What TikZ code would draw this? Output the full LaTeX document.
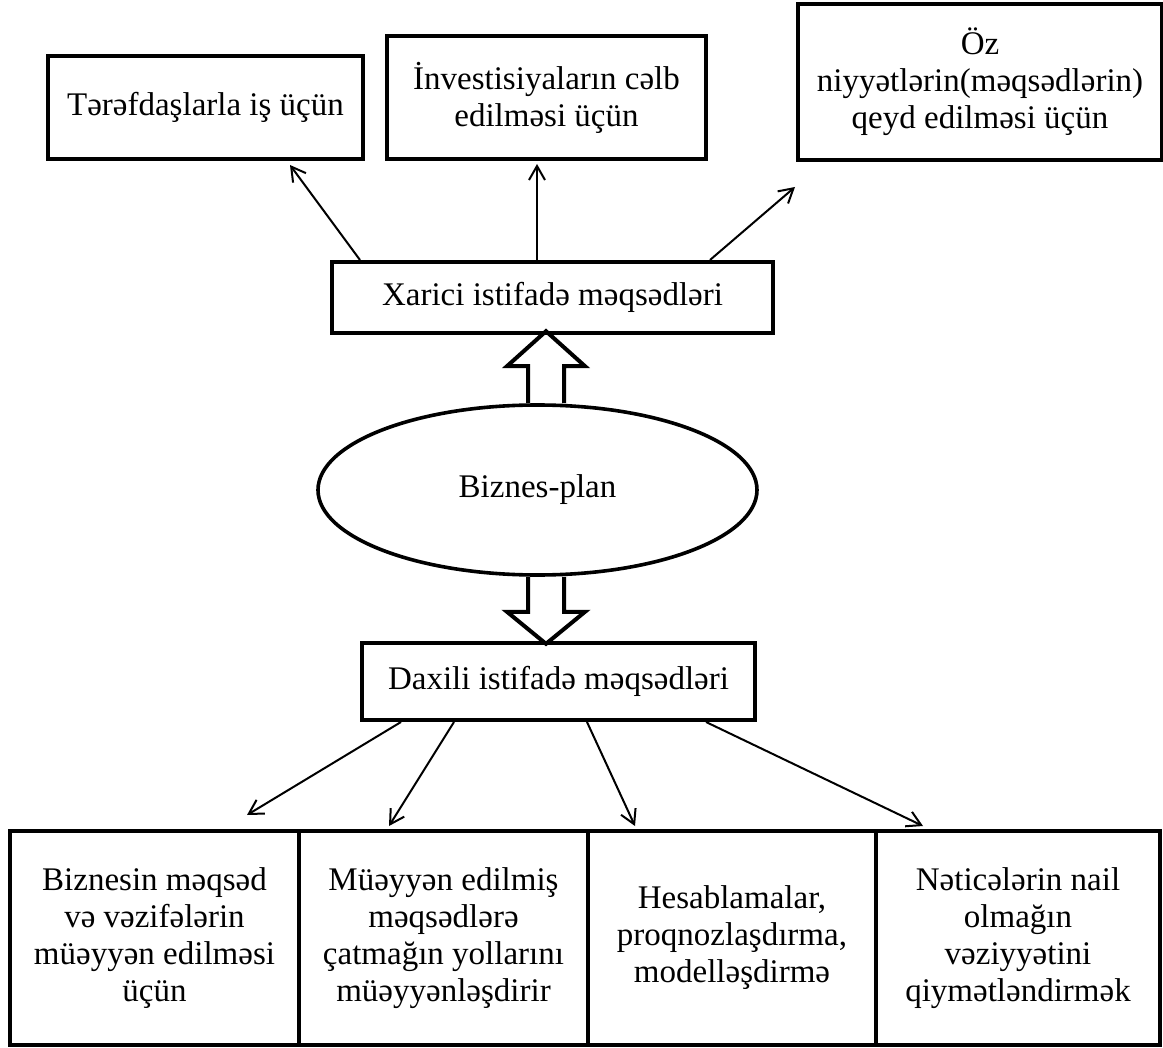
\documentclass[tikz,border=0pt]{standalone}
\usepackage{fontspec}
\setmainfont{Liberation Serif}
\usepackage{tikz}
\usetikzlibrary{shapes.geometric, arrows.meta, positioning, calc}

\begin{document}
\begin{tikzpicture}[
    x=0.5pt, y=-0.5pt,
    font=\fontsize{16.5}{18.5}\selectfont,
    box/.style={rectangle, draw, line width=2pt, align=center, inner sep=0pt},
    plan/.style={ellipse, draw, line width=1.8pt, minimum width=219.5pt, minimum height=85pt},
    arrow/.style={-{Straight Barb[length=7pt, width=8pt]}, line width=1pt},
    bigarrow/.style={line width=2pt, line join=miter}
]
\useasboundingbox (0,0) rectangle (1163,1048);

% External goals
\node[box, minimum width=157.5pt, minimum height=51.5pt] (partner) at (205.5,107.5) {Tərəfdaşlarla iş üçün};
\node[box, minimum width=159.5pt, minimum height=61.5pt] (invest) at (546.5,97.5) {İnvestisiyaların cəlb\\edilməsi üçün};
\node[box, minimum width=182pt, minimum height=78pt] (intent) at (980,82) {Öz\\niyyətlərin(məqsədlərin)\\qeyd edilməsi üçün};

\node[box, minimum width=220.5pt, minimum height=35.5pt] (xarici) at (552.5,297.5) {Xarici istifadə məqsədləri};

% Business plan in the middle
\node[plan] (plan) at (537.5,490) {Biznes-plan};

\node[box, minimum width=196.5pt, minimum height=38.5pt] (daxili) at (558.5,681.5) {Daxili istifadə məqsədləri};

% Internal goals
\node[box, minimum width=144.5pt, minimum height=107pt] (goals) at (154.5,938) {Biznesin məqsəd\\və vəzifələrin\\müəyyən edilməsi\\üçün};
\node[box, minimum width=144.5pt, minimum height=107pt] (ways) at (443.5,938) {Müəyyən edilmiş\\məqsədlərə\\çatmağın yollarını\\müəyyənləşdirir};
\node[box, minimum width=144pt, minimum height=107pt] (forecast) at (732,938) {Hesablamalar,\\proqnozlaşdırma,\\modelləşdirmə};
\node[box, minimum width=142pt, minimum height=107pt] (result) at (1018,938) {Nəticələrin nail\\olmağın\\vəziyyətini\\qiymətləndirmək};

% Hollow arrows
\coordinate (upfoot) at ($(plan.north)+(7.5,0)$);
\coordinate (downfoot) at ($(plan.south)+(7.5,0)$);
\draw[bigarrow] (upfoot) ++(-17,0) -- ++(0,-37) -- ++(-21,0) -- ++(39,-35) -- ++(39,35) -- ++(-21,0) -- ++(0,37);
\draw[bigarrow] (downfoot) ++(-17,0) -- ++(0,35) -- ++(-21,0) -- ++(39,32) -- ++(39,-32) -- ++(-21,0) -- ++(0,-35);

% Thin arrows up
\draw[arrow] ($(xarici.north west)+(30,0)$) -- ($(partner.south)+(84.5,4)$);
\draw[arrow] ($(xarici.north)+(-15.5,0)$) -- ($(invest.south)+(-9.5,3)$);
\draw[arrow] ($(xarici.north east)+(-65,0)$) -- ($(intent.south west)+(-1,25)$);

% Thin arrows down
\draw[arrow] ($(daxili.south west)+(41,0)$) -- ($(goals.north)+(92.5,-14)$);
\draw[arrow] ($(daxili.south west)+(94,0)$) -- ($(ways.north)+(-54.5,-3)$);
\draw[arrow] ($(daxili.south west)+(227,0)$) -- ($(forecast.north)+(-97,-3)$);
\draw[arrow] ($(daxili.south west)+(346,0)$) -- ($(result.north)+(-95,-3)$);

\end{tikzpicture}
\end{document}
